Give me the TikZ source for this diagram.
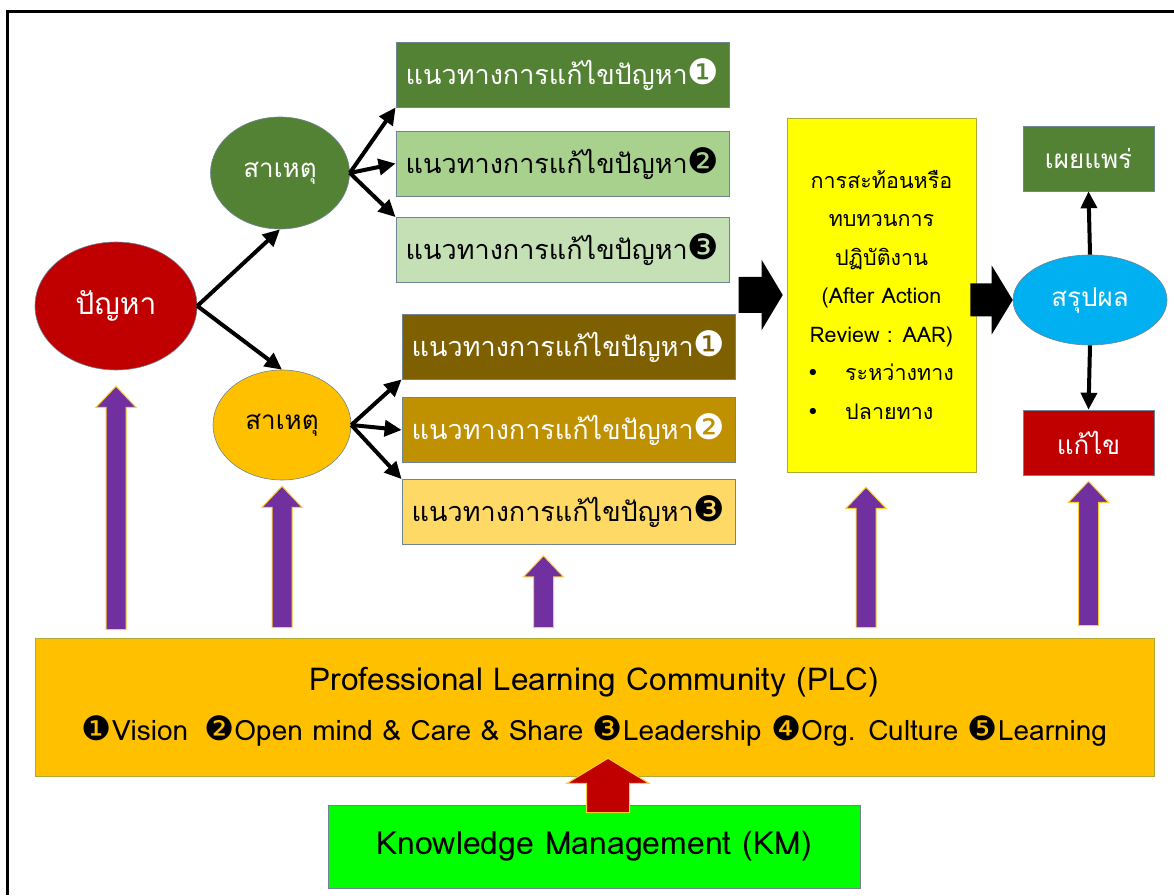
\documentclass[tikz,border=0pt]{standalone}
\usepackage{fontspec}
\usepackage{graphicx}
\setmainfont[Script=Thai]{Loma}
\newfontfamily\dingfont{DejaVu Sans}
\usetikzlibrary{arrows.meta,calc,shapes.geometric}

\definecolor{probred}{HTML}{C00000}
\definecolor{leaf}{HTML}{548235}
\definecolor{sage}{HTML}{A9D18E}
\definecolor{mint}{HTML}{C5E0B4}
\definecolor{bark}{HTML}{7F6000}
\definecolor{ochre}{HTML}{BF9000}
\definecolor{sand}{HTML}{FFD966}
\definecolor{amber}{HTML}{FFC000}
\definecolor{aaryellow}{HTML}{FFFF00}
\definecolor{sky}{HTML}{00B0F0}
\definecolor{kmgreen}{HTML}{00FF00}
\definecolor{grape}{HTML}{7030A0}
\definecolor{rim}{HTML}{6F8494}

\newcommand\nb[2][1.3]{\scalebox{#1}{\dingfont #2}}
% block arrow pointing up: style, tail, tip, shaft half, head half, head length
\newcommand\upblock[6]{%
  \path[#1] let \p1=(#2), \p2=(#3) in (\x1-#4,\y1) -- (\x1-#4,\y2-#6) -- (\x1-#5,\y2-#6) -- (\x1,\y2)
    -- (\x1+#5,\y2-#6) -- (\x1+#4,\y2-#6) -- (\x1+#4,\y1) -- cycle;}
% block arrow pointing right: tail, tip, shaft half, head half, head length
\newcommand\rightblock[5]{%
  \fill[black] let \p1=(#1), \p2=(#2) in (\x1,\y2+#3) -- (\x2-#5,\y2+#3) -- (\x2-#5,\y2+#4) -- (\x2,\y2)
    -- (\x2-#5,\y2-#4) -- (\x2-#5,\y2-#3) -- (\x1,\y2-#3) -- cycle;}

\tikzset{
  blob/.style={ellipse, draw=rim, line width=.6pt, inner sep=0pt, font=\fontsize{26}{30}\selectfont},
  solbox/.style={draw=rim, line width=.8pt, minimum width=333pt, minimum height=65pt, inner sep=0pt, font=\fontsize{27}{30}\selectfont},
  endbox/.style={draw=rim, line width=.6pt, minimum width=131pt, minimum height=65pt, inner sep=0pt, text=white, font=\fontsize{26}{30}\selectfont},
  link/.style={line width=4pt, -{Triangle[length=17pt,width=16pt]}},
  purplearrow/.style={fill=grape, draw=amber!80!white, line width=1pt},
  redarrow/.style={fill=probred, draw=amber!80!white, line width=1pt},
}

\begin{document}
\begin{tikzpicture}[x=1pt,y=1pt]
\useasboundingbox (0,0) rectangle (1174,895);
\draw[line width=3pt] (7.5,0) |- (1174,883.5);

% problem and its causes
\node[blob, fill=probred, text=white, minimum width=162pt, minimum height=128pt, font=\fontsize{30}{36}\selectfont] (problem) at (116,589) {ปัญหา};
\node[blob, fill=leaf, text=white, minimum width=139pt, minimum height=112pt] (causeA) at (280,722) {สาเหตุ};
\node[blob, fill=amber, minimum width=138pt, minimum height=110pt] (causeB) at (282,470) {สาเหตุ};

\foreach \i/\y/\c/\t/\n in {1/820.5/leaf/white/❶, 2/731.5/sage/black/❷, 3/645/mint/black/❸}
  \node[solbox, fill=\c, text=\t] (solA\i) at (562.5,\y) {แนวทางการแก้ไขปัญหา\nb{\n}};
\foreach \i/\y/\c/\t/\n in {1/548.5/bark/white/❶, 2/465/ochre/white/❷, 3/383/sand/black/❸}
  \node[solbox, fill=\c, text=\t] (solB\i) at (568.5,\y) {แนวทางการแก้ไขปัญหา\nb{\n}};

\draw[link] (problem.east) -- (causeA.south);
\draw[link] (problem.east) -- (causeB.north);
\draw[link] (causeA.east) -- (solA1.south west);
\draw[link] (causeA.east) -- (solA2.west);
\draw[link] (causeA.east) -- (solA3.north west);
\draw[link] (causeB.east) -- (solB1.south west);
\draw[link] (causeB.east) -- (solB2.west);
\draw[link] (causeB.east) -- (solB3.north west);

% after action review
\node[draw=olive!70, line width=.6pt, fill=aaryellow, minimum width=189pt, minimum height=354pt, align=center, font=\fontsize{21.5}{38.5}\selectfont] (aar) at (881.5,600)
  {การสะท้อนหรือ\\ทบทวนการ\\ปฏิบัติงาน\\(After Action\\Review : AAR)\\
   \makebox[150pt][l]{\nb[1]{•}\hspace{26pt}ระหว่างทาง}\\\makebox[150pt][l]{\nb[1]{•}\hspace{26pt}ปลายทาง}};

\node[blob, fill=sky, text=white, minimum width=154pt, minimum height=90pt] (summary) at (1090,595) {สรุปผล};
\node[endbox, fill=leaf] (spread) at (1088.5,736.5) {เผยแพร่};
\node[endbox, fill=probred] (fix) at (1088.5,452.5) {แก้ไข};
\draw[link] (summary.north) -- (spread.south);
\draw[link] (summary.south) -- (fix.north);

\coordinate (aarIn) at ($(aar.west)+(-48,0)$);
\coordinate (aarTip) at ($(aar.west)+(-4,0)$);
\rightblock{aarIn}{aarTip}{18pt}{35pt}{21pt}
\coordinate (aarOut) at ($(aar.east)+(-6,0)$);
\rightblock{aarOut}{summary.west}{16.5pt}{34.5pt}{21pt}

% PLC and KM
\node[draw=olive!70, line width=.6pt, fill=amber, minimum width=1119pt, minimum height=138pt, align=center, font=\fontsize{28}{50}\selectfont] (plc) at (594.5,188)
  {{\fontsize{31.5}{50}\selectfont Professional Learning Community (PLC)}\\
   \nb[1.2]{❶}Vision\hspace{16pt}\nb[1.2]{❷}Open mind \& Care \& Share \nb[1.2]{❸}Leadership \nb[1.2]{❹}Org. Culture \nb[1.2]{❺}Learning};
\node[draw=rim, line width=.6pt, fill=kmgreen, minimum width=532pt, minimum height=83pt, font=\fontsize{32}{36}\selectfont] (km) at (594,48.5) {Knowledge Management (KM)};

\coordinate (t1) at ($(problem.south)+(0,-16)$);
\coordinate (b1) at ($(problem |- plc.north)+(0,8)$);
\coordinate (t2) at ($(causeB.south)+(0,-6)$);
\coordinate (b2) at ($(causeB |- plc.north)+(0,10)$);
\coordinate (t3) at ($(solB3.south)+(-25,-11)$);
\coordinate (b3) at ($(t3 |- plc.north)+(0,10)$);
\coordinate (t4) at ($(aar.south)+(-15.5,-15)$);
\coordinate (b4) at ($(t4 |- plc.north)+(0,10)$);
\coordinate (t5) at ($(fix.south)+(0,-6)$);
\coordinate (b5) at ($(t5 |- plc.north)+(0,12)$);
\foreach \k in {1,...,5}{
  \upblock{purplearrow}{b\k}{t\k}{10pt}{20pt}{21pt}
}

\coordinate (kmTail) at ($(km.north)+(14,-8)$);
\coordinate (kmTip) at ($(plc.south)+(14,18)$);
\upblock{redarrow}{kmTail}{kmTip}{21.5pt}{41pt}{25pt}

\end{tikzpicture}
\end{document}
